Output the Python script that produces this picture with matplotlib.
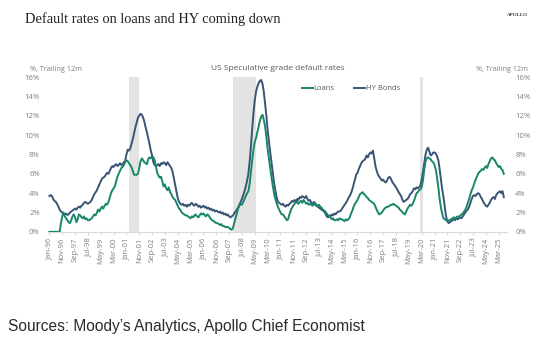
import numpy as np
import pandas as pd
import matplotlib
matplotlib.use("Agg")
import matplotlib.pyplot as plt
import matplotlib.dates as mdates

# -----------------------------
# DATA: trailing 12m default rates (%), monthly from Jan-96
# -----------------------------
hy_bonds = [
    3.7, 3.8, 3.7, 3.4, 3.2, 3.1, 2.9, 2.6, 2.3, 2.1, 2.0, 1.9,      # 1996
    1.8, 1.9, 1.75, 1.8, 2.0, 2.1, 2.2, 2.3, 2.4, 2.3, 2.5, 2.6,     # 1997
    2.5, 2.7, 2.8, 3.0, 3.1, 3.0, 2.9, 3.0, 3.1, 3.3, 3.6, 3.9,      # 1998
    4.1, 4.3, 4.6, 4.9, 5.2, 5.5, 5.6, 5.7, 5.9, 6.1, 6.0, 6.3,      # 1999
    6.6, 6.8, 6.7, 6.9, 7.0, 6.8, 6.9, 7.1, 6.9, 7.0, 7.2, 7.3,      # 2000
    8.0, 8.5, 8.4, 8.6, 9.1, 9.6, 10.2, 10.8, 11.3, 11.8, 12.0, 12.2,  # 2001
    12.1, 11.8, 11.4, 10.8, 10.3, 9.7, 9.1, 8.4, 7.9, 7.2, 6.9, 6.8,   # 2002
    6.9, 7.0, 6.8, 7.1, 7.0, 7.2, 7.1, 6.9, 7.2, 7.0, 6.8, 6.6,      # 2003
    6.2, 5.5, 4.8, 4.1, 3.5, 3.1, 2.9, 2.8, 2.9, 2.7, 2.8, 2.6,      # 2004
    2.8, 2.7, 2.9, 3.0, 2.8, 2.7, 2.9, 2.8, 2.6, 2.7, 2.5, 2.6,      # 2005
    2.7, 2.5, 2.6, 2.4, 2.5, 2.3, 2.4, 2.2, 2.3, 2.1, 2.2, 2.1,      # 2006
    2.0, 2.1, 1.9, 2.0, 1.8, 1.9, 1.7, 1.8, 1.6, 1.5, 1.6, 1.7,      # 2007
    1.9, 2.1, 2.3, 2.5, 2.8, 3.1, 3.4, 3.8, 4.2, 4.7, 5.3, 6.0,      # 2008
    7.3, 8.9, 10.6, 12.3, 13.6, 14.5, 15.0, 15.4, 15.6, 15.7, 15.3, 14.5,  # 2009
    13.3, 12.0, 10.6, 9.4, 8.3, 7.2, 6.1, 5.1, 4.3, 3.6, 3.1, 3.0,   # 2010
    2.9, 2.8, 2.9, 2.7, 2.6, 2.8, 2.7, 2.9, 3.0, 3.2, 3.1, 3.3,      # 2011
    3.1, 3.4, 3.3, 3.6, 3.5, 3.7, 3.6, 3.5, 3.7, 3.4, 3.2, 3.3,      # 2012
    3.0, 2.9, 3.1, 2.8, 2.7, 2.6, 2.5, 2.4, 2.3, 2.2, 2.1, 1.9,      # 2013
    1.6, 1.5, 1.7, 1.6, 1.8, 1.7, 1.9, 1.8, 2.0, 2.1, 2.1, 2.2,      # 2014
    2.4, 2.6, 2.8, 3.0, 3.2, 3.5, 3.7, 4.0, 4.4, 4.9, 5.4, 5.9,      # 2015
    6.1, 6.5, 6.8, 7.1, 7.3, 7.4, 7.5, 7.9, 7.7, 8.0, 8.2, 8.1,      # 2016
    8.4, 7.6, 6.8, 6.3, 5.9, 5.7, 5.5, 5.3, 5.4, 5.2, 5.1, 5.3,      # 2017
    5.6, 5.7, 5.5, 5.2, 5.0, 4.8, 4.6, 4.4, 4.1, 3.9, 3.7, 3.3,      # 2018
    3.1, 3.2, 3.3, 3.4, 3.6, 3.9, 4.0, 4.2, 4.5, 4.4, 4.6, 4.5,      # 2019
    4.6, 4.8, 5.4, 6.2, 7.1, 8.0, 8.5, 8.7, 8.3, 7.9, 8.0, 8.2,      # 2020
    8.2, 8.1, 7.8, 7.4, 6.5, 5.4, 4.4, 3.6, 2.6, 1.6, 1.1, 0.9,      # 2021
    1.0, 1.1, 1.2, 1.3, 1.2, 1.4, 1.3, 1.4, 1.5, 1.4, 1.6, 1.8,      # 2022
    2.0, 2.2, 2.3, 2.6, 3.0, 3.4, 3.7, 3.8, 3.7, 3.9, 4.0, 3.9,      # 2023
    3.6, 3.4, 3.1, 2.9, 2.7, 2.6, 2.8, 3.0, 3.3, 3.5, 3.6, 3.4,      # 2024
    3.8, 4.0, 4.1, 4.2, 4.0, 4.2, 3.6,                               # 2025
]

loans = [
    0.0, 0.0, 0.0, 0.0, 0.0, 0.0, 0.0, 0.0, 0.0, 0.9, 1.6, 2.0,      # 1996
    1.6, 1.4, 1.2, 1.0, 0.9, 1.2, 1.6, 1.8, 1.5, 1.0, 1.3, 1.8,      # 1997
    1.7, 1.5, 1.4, 1.6, 1.3, 1.4, 1.2, 1.2, 1.3, 1.4, 1.6, 1.8,      # 1998
    1.7, 2.0, 2.3, 2.1, 2.4, 2.6, 2.4, 2.7, 2.9, 2.8, 3.1, 3.5,      # 1999
    4.0, 4.3, 4.5, 4.7, 5.2, 5.7, 6.0, 6.3, 6.6, 6.7, 6.9, 7.2,      # 2000
    7.4, 7.3, 7.1, 6.9, 6.7, 6.3, 5.9, 5.9, 5.9, 6.0, 6.6, 7.3,      # 2001
    7.6, 7.4, 7.2, 7.1, 7.0, 7.5, 7.7, 7.6, 7.8, 7.7, 7.4, 6.8,      # 2002
    6.1, 5.8, 5.6, 5.7, 5.2, 4.7, 4.9, 4.5, 4.3, 4.6, 4.1, 3.9,      # 2003
    3.6, 3.4, 3.3, 3.0, 2.7, 2.4, 2.3, 2.0, 1.9, 1.8, 1.7, 1.7,      # 2004
    1.6, 1.5, 1.4, 1.6, 1.5, 1.7, 1.8, 1.6, 1.5, 1.7, 1.9, 1.8,      # 2005
    1.9, 1.7, 1.6, 1.8, 1.7, 1.5, 1.3, 1.2, 1.1, 1.0, 0.9, 0.9,      # 2006
    0.8, 0.7, 0.8, 0.6, 0.6, 0.5, 0.5, 0.5, 0.4, 0.3, 0.2, 0.4,      # 2007
    0.9, 1.4, 1.9, 2.4, 2.7, 2.9, 2.8, 3.1, 3.4, 3.7, 4.0, 4.2,      # 2008
    5.0, 6.2, 7.4, 8.5, 9.3, 9.7, 10.3, 10.9, 11.5, 11.9, 12.1, 11.6,  # 2009
    10.9, 9.8, 8.6, 7.6, 6.6, 5.7, 4.8, 4.0, 3.4, 3.0, 2.6, 2.3,     # 2010
    2.0, 1.8, 1.8, 1.6, 1.4, 1.2, 1.3, 1.8, 2.2, 2.5, 2.7, 2.9,      # 2011
    3.0, 3.1, 2.9, 3.1, 3.2, 3.0, 3.3, 3.1, 2.9, 3.0, 2.8, 2.9,      # 2012
    2.8, 2.7, 2.9, 3.0, 2.8, 2.7, 2.8, 2.6, 2.5, 2.3, 2.2, 2.1,      # 2013
    1.9, 1.7, 1.6, 1.5, 1.3, 1.4, 1.2, 1.2, 1.3, 1.2, 1.4, 1.3,      # 2014
    1.3, 1.2, 1.1, 1.3, 1.2, 1.3, 1.5, 1.9, 2.2, 2.6, 2.9, 3.1,      # 2015
    3.3, 3.6, 3.9, 4.0, 4.1, 3.9, 3.8, 3.6, 3.5, 3.3, 3.2, 3.1,      # 2016
    3.0, 2.9, 2.6, 2.3, 2.0, 1.8, 1.9, 2.0, 2.2, 2.4, 2.5, 2.6,      # 2017
    2.6, 2.7, 2.8, 2.8, 2.9, 2.8, 2.7, 2.6, 2.5, 2.3, 2.2, 2.0,      # 2018
    1.9, 1.8, 2.1, 2.4, 2.6, 2.8, 2.7, 2.9, 3.2, 3.6, 4.0, 4.1,      # 2019
    4.3, 4.4, 4.6, 5.3, 6.4, 7.3, 7.6, 7.7, 7.6, 7.5, 7.3, 7.2,      # 2020
    6.9, 6.4, 5.6, 4.6, 3.4, 2.5, 1.9, 1.4, 1.3, 1.2, 1.1, 1.2,      # 2021
    1.2, 1.3, 1.4, 1.5, 1.4, 1.5, 1.6, 1.5, 1.7, 1.8, 1.9, 2.1,      # 2022
    2.3, 2.6, 3.0, 3.4, 3.9, 4.3, 4.6, 5.0, 5.4, 5.7, 6.0, 6.2,      # 2023
    6.3, 6.5, 6.4, 6.6, 6.8, 6.6, 7.0, 7.3, 7.6, 7.7, 7.5, 7.4,      # 2024
    7.1, 6.9, 6.7, 6.8, 6.5, 6.4, 6.0,                               # 2025
]

# NBER recessions
recessions = [("2001-03-01", "2001-11-01"), ("2007-12-01", "2009-06-01"), ("2020-02-01", "2020-04-01")]

dates = pd.date_range("1996-01-01", periods=len(hy_bonds), freq="MS")
tick_dates = pd.date_range("1996-01-01", "2025-03-01", freq="10MS")

green = "#17876a"
navy = "#3a5478"
grey_txt = "#7f7f7f"

# -----------------------------
# PLOT
# -----------------------------
fig = plt.figure(figsize=(5.59, 3.44), dpi=100)
ax = fig.add_axes([0.086, 0.326, 0.821, 0.45])

for start, end in recessions:
    ax.axvspan(pd.Timestamp(start), pd.Timestamp(end), color="#e3e3e3", lw=0, zorder=0)

ax.plot(dates, loans, color=green, lw=1.4, label="Loans", zorder=3)
ax.plot(dates, hy_bonds, color=navy, lw=1.4, label="HY Bonds", zorder=2)

ax.set_ylim(0, 16)
ax.set_xlim(pd.Timestamp("1995-12-01"), pd.Timestamp("2025-09-15"))
ax.set_yticks(range(0, 17, 2))
ax.set_yticklabels([f"{v}%" for v in range(0, 17, 2)])
ax.set_xticks(tick_dates)
ax.xaxis.set_major_formatter(mdates.DateFormatter("%b-%y"))

for s in ["top", "left", "right"]:
    ax.spines[s].set_visible(False)
ax.spines["bottom"].set_color("#d9d9d9")
ax.spines["bottom"].set_linewidth(0.8)

ax.tick_params(axis="y", length=0, labelsize=5.5, labelcolor=grey_txt, labelright=True, pad=6)
ax.tick_params(axis="x", length=2, color="#d9d9d9", labelsize=5.5, labelcolor=grey_txt,
               labelrotation=90, pad=2)
for lab in ax.get_xticklabels() + ax.get_yticklabels() + ax.yaxis.get_ticklabels(which="major"):
    lab.set_fontfamily("Open Sans")
for tick in ax.yaxis.get_major_ticks():
    tick.label2.set_fontfamily("Open Sans")

ax.legend(loc="center", bbox_to_anchor=(0.66, 0.925), ncol=2, frameon=False,
          handlelength=1.4, handletextpad=0.1, columnspacing=2.6,
          prop={"family": "Open Sans", "size": 5.5}, labelcolor="#595959")

ax.text(0.5, 1.035, "US Speculative grade default rates", transform=ax.transAxes,
        ha="center", va="bottom", fontsize=6.0, color="#595959", family="Open Sans")

fig.text(0.054, 0.795, "%, Trailing 12m", fontsize=5.2, color=grey_txt, family="Open Sans")
fig.text(0.944, 0.795, "%, Trailing 12m", fontsize=5.2, color=grey_txt, family="Open Sans", ha="right")

fig.text(0.045, 0.945, "Default rates on loans and HY coming down", fontsize=10.4,
         family="Liberation Serif", color="#222222", va="center")
fig.text(0.945, 0.955, "APOLLO", fontsize=3.6, family="Liberation Serif", weight="bold",
         color="#333333", ha="right", va="center")
fig.text(0.014, 0.052, "Sources: Moody\u2019s Analytics, Apollo Chief Economist", fontsize=11.2,
         family="Liberation Sans", color="#2b2b2b", va="center")

fig.savefig("out.png", dpi=100, facecolor="white")
